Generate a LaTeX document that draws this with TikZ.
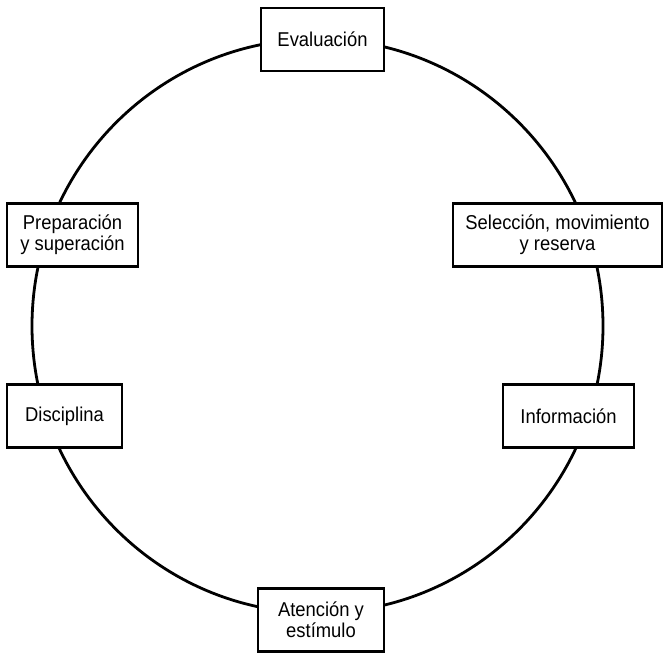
\documentclass[tikz,border=0pt]{standalone}
\usepackage{fontspec}
\setmainfont[FakeStretch=0.92]{Liberation Sans}
\begin{document}
\begin{tikzpicture}[x=1pt,y=1pt,
  ring/.style={line width=2.8pt},
  stage/.style={draw,line width=2.4pt,fill=white,inner sep=0pt,align=center,
    font=\fontsize{20}{21}\selectfont,minimum height=63pt}]
\useasboundingbox (0,0) rectangle (664,653);
\draw[ring] (317.5,327) ellipse[x radius=285.5,y radius=287];
\node[stage,minimum width=123pt] (eval) at (322.5,613.5) {Evaluación};
\node[stage,minimum width=126pt] (aten) at (321,33) {Atención y\\estímulo};
\node[stage,minimum width=131pt] (prep) at (72.5,418) {Preparación\\y superación};
\node[stage,minimum width=209pt] (sel) at (557.5,418) {Selección, movimiento\\y reserva};
\node[stage,minimum width=115pt] (disc) at (64.5,237) {Disciplina};
\node[stage,minimum width=131pt] (info) at (568.5,237) {Información};
\end{tikzpicture}
\end{document}
